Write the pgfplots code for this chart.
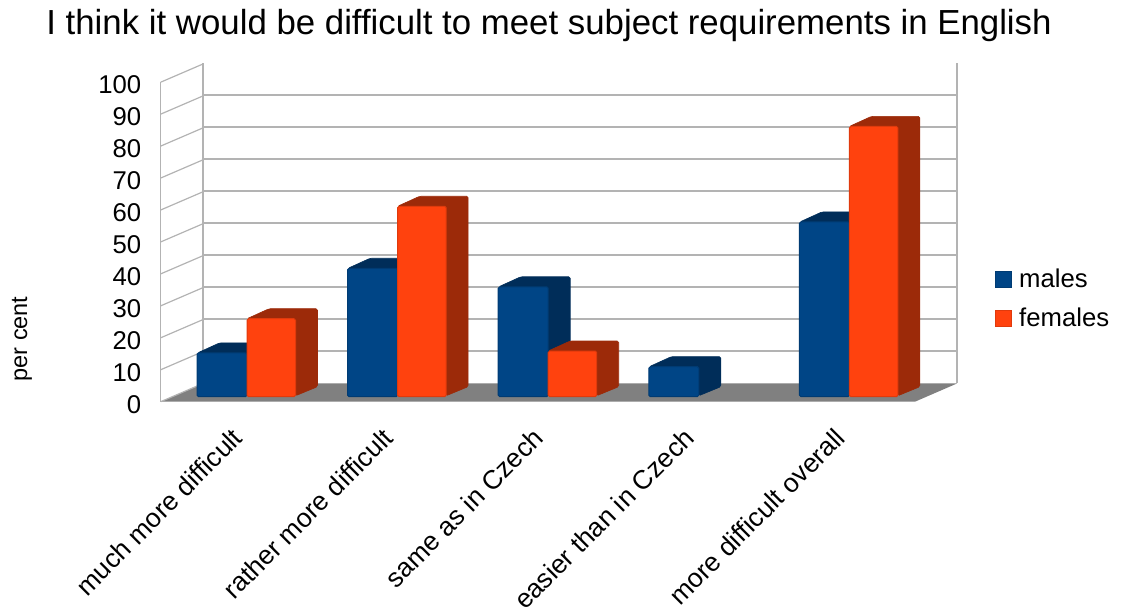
\documentclass[border=0pt]{standalone}
\usepackage{fontspec}
\setmainfont{Liberation Sans}
\usepackage{pgfplots}
\pgfplotsset{compat=1.18}

\definecolor{malefront}{HTML}{004586}
\definecolor{maleedge}{HTML}{003B73}
\definecolor{maleside}{HTML}{002D59}
\definecolor{femalefront}{HTML}{FF420E}
\definecolor{femaleedge}{HTML}{E03A0C}
\definecolor{femaleside}{HTML}{9C2A09}
\definecolor{wallgrid}{HTML}{B3B3B3}
\definecolor{floorgrey}{HTML}{808080}

\newcommand{\labelfont}{\fontsize{25.7pt}{30pt}\selectfont}
\newcommand{\catfont}{\fontsize{26.5pt}{30pt}\selectfont}

% Side and top faces of one bar: left edge, right edge, value, colour.
% Depth is 22 units across and 10 units up, given in axis units.
\newcommand{\barside}[4]{%
  \pgfmathsetmacro{\bxr}{#2}%
  \pgfmathsetmacro{\bxl}{#1}%
  \pgfmathsetmacro{\bxrd}{#2+22/150.6}%
  \pgfmathsetmacro{\bxld}{#1+22/150.6}%
  \pgfmathsetmacro{\byd}{10/3.195}%
  \pgfmathsetmacro{\bytop}{#3+10/3.195}%
  \addplot[forget plot, fill=#4, draw=#4, line width=0.6pt, rounded corners=1.5pt]
    coordinates {(\bxr,0.3) (\bxrd,\byd) (\bxrd,\bytop) (\bxld,\bytop) (\bxl,#3) (\bxr,#3)} -- cycle;
}

\begin{document}
\begin{tikzpicture}
\clip (0,0) rectangle (1121pt,609pt);

\node[font=\fontsize{34.8pt}{40pt}\selectfont, anchor=center] at (549pt,583pt)
  {I think it would be difficult to meet subject requirements in English};
\node[font=\fontsize{23.5pt}{26pt}\selectfont, rotate=90, anchor=center] at (22pt,270pt) {per cent};

% Back wall with its horizontal grid
\begin{axis}[
  scale only axis, width=754pt, height=320pt,
  at={(203pt,225.5pt)}, anchor=south west,
  xmin=0, xmax=1, ymin=0, ymax=100,
  xtick={0,1}, ytick={10,20,...,90},
  xticklabels={}, yticklabels={},
  major tick length=0pt,
  axis line style={draw=none},
  grid=major,
  grid style={wallgrid, line width=2pt},
  major grid style={wallgrid, line width=2pt},
]
\end{axis}

% Floor, side wall and the value axis on the front edge
\begin{axis}[
  scale only axis, width=754.3pt, height=319.5pt,
  at={(160.7pt,207.3pt)}, anchor=south west,
  xmin=0, xmax=754.3, ymin=0, ymax=100,
  clip=false,
  axis x line=none,
  axis y line=left,
  y axis line style={wallgrid, line width=1.2pt, -},
  ytick={0,10,...,100},
  major tick length=0pt,
  yticklabel style={font=\labelfont, /pgf/number format/assume math mode=true, anchor=east, xshift=-16pt, yshift=-2.5pt},
]
\addplot[fill=floorgrey, draw=none] coordinates {(0,0) (754.3,0) (796.3,5.7) (42.3,5.7)} -- cycle;
\pgfplotsinvokeforeach{0,10,...,100}{
  \addplot[wallgrid, line width=1.2pt] coordinates {(0,#1) (42.3,#1+5.7)};
}
\end{axis}

% Bars
\begin{axis}[
  scale only axis, width=753pt, height=319.5pt,
  at={(171.7pt,212.3pt)}, anchor=south west,
  xmin=-0.5, xmax=4.5, ymin=0, ymax=100,
  clip=false,
  axis line style={draw=none},
  major tick length=0pt,
  ytick=\empty,
  xtick={0,1,2,3,4},
  xticklabels={much more difficult, rather more difficult, same as in Czech, easier than in Czech, more difficult overall},
  xticklabel style={font=\catfont, rotate=45, anchor=north east, yshift=-9.2pt, xshift=-32.6pt, inner sep=0pt},
  legend style={at={(1.0934,0.406)}, anchor=north west, draw=none, fill=none, inner sep=0pt,
    font=\labelfont, row sep=15pt, /tikz/every odd column/.append style={column sep=5pt}},
  legend cell align=left,
  legend image code/.code={\fill[#1, sharp corners] (0pt,-8pt) rectangle (16pt,8pt);},
]
\barside{-0.3287}{0}{13.7}{maleside}
\barside{0.6713}{1}{40.2}{maleside}
\barside{1.6713}{2}{34.4}{maleside}
\barside{2.6713}{3}{9.4}{maleside}
\barside{3.6713}{4}{54.7}{maleside}
\addplot[ybar, bar width=50pt, bar shift=-25pt, fill=malefront, draw=maleedge, line width=1pt, rounded corners=1.5pt]
  coordinates {(0,13.7) (1,40.2) (2,34.4) (3,9.4) (4,54.7)};
\addlegendentry{males}
\barside{0}{0.3220}{24.4}{femaleside}
\barside{1}{1.3220}{59.6}{femaleside}
\barside{2}{2.3220}{14.3}{femaleside}
\barside{4}{4.3220}{84.6}{femaleside}
\addplot[ybar, bar width=48.5pt, bar shift=24.25pt, fill=femalefront, draw=femaleedge, line width=1pt, rounded corners=1.5pt]
  coordinates {(0,24.4) (1,59.6) (2,14.3) (4,84.6)};
\addlegendentry{females}
\end{axis}
\end{tikzpicture}
\end{document}
